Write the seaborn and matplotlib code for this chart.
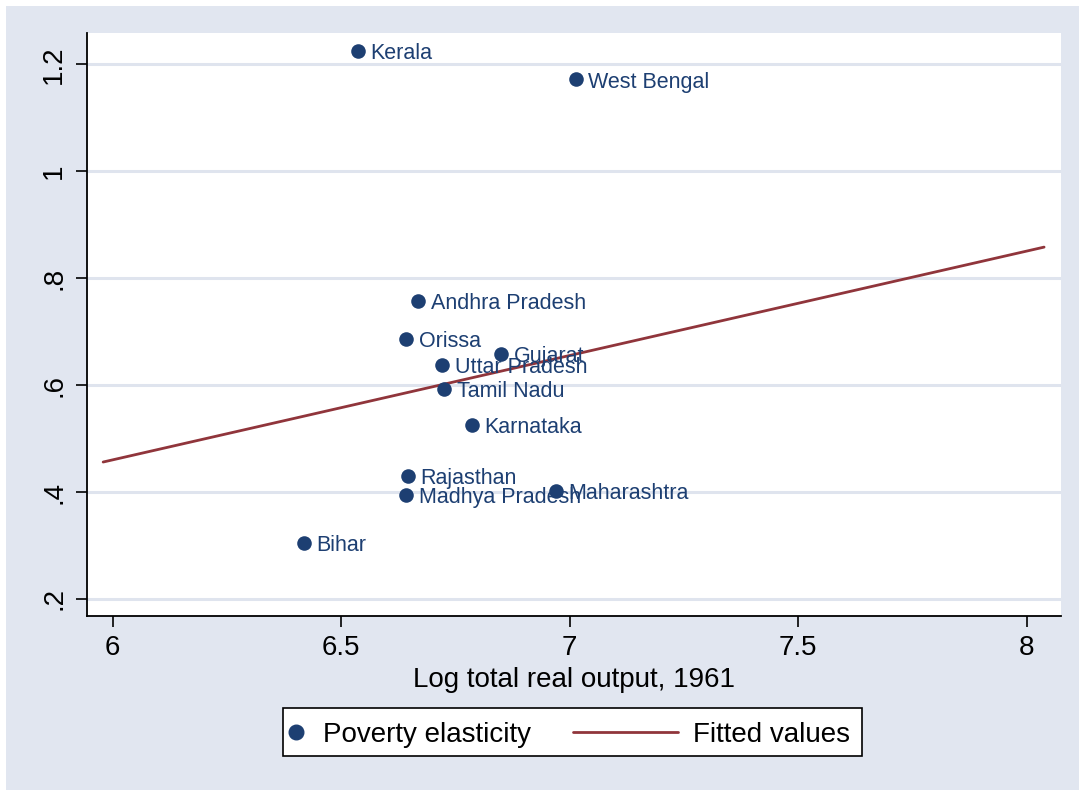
import numpy as np
import pandas as pd
import matplotlib
matplotlib.use("Agg")
import matplotlib.pyplot as plt
from matplotlib.lines import Line2D
from matplotlib.patches import Rectangle
import seaborn as sns

# data
states = ['Kerala', 'West Bengal', 'Andhra Pradesh', 'Orissa', 'Gujarat', 'Uttar Pradesh',
          'Tamil Nadu', 'Karnataka', 'Rajasthan', 'Madhya Pradesh', 'Maharashtra', 'Bihar']
log_output = [6.537, 7.013, 6.668, 6.642, 6.850, 6.721, 6.725, 6.786, 6.646, 6.642, 6.970, 6.419]
elasticity = [1.225, 1.172, 0.757, 0.686, 0.658, 0.638, 0.593, 0.526, 0.430, 0.395, 0.402, 0.305]
fit_x = [5.979, 8.038]
fit_y = [0.456, 0.858]
yticks = [0.2, 0.4, 0.6, 0.8, 1.0, 1.2]
ytick_labels = ['.2', '.4', '.6', '.8', '1', '1.2']
xticks = [6, 6.5, 7, 7.5, 8]
xtick_labels = ['6', '6.5', '7', '7.5', '8']

navy = '#1d3f72'
maroon = '#90353b'
bg = '#e1e6f0'
grid_col = '#dfe4ee'

W, H = 1079, 790

sns.set_style('white')
plt.rcParams['font.family'] = ['Liberation Sans', 'DejaVu Sans']
plt.rcParams['text.color'] = 'black'
plt.rcParams['axes.labelcolor'] = 'black'
plt.rcParams['xtick.color'] = 'black'
plt.rcParams['ytick.color'] = 'black'

df = pd.DataFrame({'state': states, 'x': log_output, 'y': elasticity})
fit = pd.DataFrame({'x': fit_x, 'y': fit_y})


def fx(px):
    return px / W


def fy(py):
    return 1 - py / H


fig = plt.figure(figsize=(W / 100, H / 100), dpi=100)
fig.patch.set_facecolor('white')
fig.patches.append(Rectangle((fx(6), 0), 1 - fx(6), fy(6), transform=fig.transFigure,
                             facecolor=bg, edgecolor='none', zorder=-10))
ax = fig.add_axes([fx(86.7), fy(616), fx(1061 - 86.7), (616 - 33) / H])
ax.set_facecolor('white')

for t in yticks:
    ax.axhline(t, color=grid_col, lw=2.2, zorder=0)

sns.lineplot(data=fit, x='x', y='y', color=maroon, lw=2.0, ax=ax, zorder=2)
sns.scatterplot(data=df, x='x', y='y', color=navy, s=110, edgecolor=navy, linewidth=0, ax=ax, zorder=3)

for _, r in df.iterrows():
    ax.annotate(r['state'], (r['x'], r['y']), xytext=(9, -2), textcoords='offset points',
                va='center', ha='left', fontsize=15.5, color=navy, zorder=4)

ax.set_xlim(5.943, 8.075)
ax.set_ylim(0.168, 1.2585)
ax.set_xticks(xticks)
ax.set_xticklabels(xtick_labels)
ax.set_yticks(yticks)
ax.set_yticklabels(ytick_labels, rotation=90, va='center')
ax.tick_params(axis='both', direction='out', length=8, width=1.2, color='black',
               labelcolor='black', labelsize=20, pad=6, left=True, bottom=True)
for side in ['top', 'right']:
    ax.spines[side].set_visible(False)
for side in ['left', 'bottom']:
    ax.spines[side].set_color('black')
    ax.spines[side].set_linewidth(1.3)
ax.set_xlabel('Log total real output, 1961', fontsize=20, labelpad=4, color='black')
ax.set_ylabel('')

# legend box in Stata style (marker sits left of its label, line has a long key)
fig.patches.append(Rectangle((fx(283), fy(756)), fx(862 - 283), (756 - 708) / H,
                             transform=fig.transFigure, facecolor='white',
                             edgecolor='black', lw=1.2, zorder=5))
ly = fy(732)
ty = fy(734.5)
fig.add_artist(Line2D([fx(296)], [ly], marker='o', ls='none', color=navy,
                      markersize=10.5, transform=fig.transFigure, zorder=6))
fig.text(fx(323), ty, 'Poverty elasticity', fontsize=20, va='center', ha='left',
         color='black', zorder=6)
fig.add_artist(Line2D([fx(573), fx(678)], [ly, ly], color=maroon, lw=2.0,
                      transform=fig.transFigure, zorder=6))
fig.text(fx(693), ty, 'Fitted values', fontsize=20, va='center', ha='left',
         color='black', zorder=6)

fig.savefig('out.png', dpi=100)
